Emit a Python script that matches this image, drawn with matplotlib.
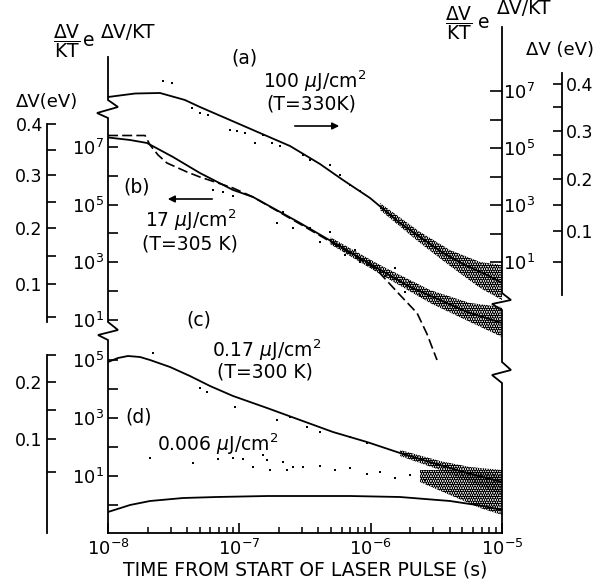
import numpy as np
import matplotlib
matplotlib.use("Agg")
import matplotlib.pyplot as plt
from matplotlib.ticker import FixedLocator, NullLocator, LogLocator, FixedFormatter

plt.rcParams['font.family'] = ['DejaVu Sans']
plt.rcParams['hatch.linewidth'] = 1.8
plt.rcParams['mathtext.fontset'] = 'dejavusans'

# ---------------- data: log10(time / s) and log10((dV/kT) e^(dV/kT)) ----------------
# (a) 100 uJ/cm2, right-hand scale
t_a = [-8.0, -7.794, -7.604, -7.414, -7.300, -7.071, -6.843, -6.614, -6.386, -6.211,
       -6.005, -5.777, -5.449, -5.282, -5.114, -5.0]
v_a = [6.789, 6.912, 6.930, 6.684, 6.439, 5.982, 5.526, 5.070, 4.439, 3.877,
       3.246, 2.368, 1.316, 0.895, 0.544, 0.263]
# (b) 17 uJ/cm2, left upper scale (solid)
t_b = [-8.0, -7.832, -7.703, -7.505, -7.300, -7.048, -6.896, -6.538, -6.211, -5.952,
       -5.700, -5.472, -5.266, -5.0]
v_b = [7.330, 7.243, 7.139, 6.653, 6.098, 5.509, 5.266, 4.364, 3.497, 2.803,
       2.144, 1.693, 1.277, 0.895]
# (b) dashed
t_bd = [-8.0, -7.718, -7.680, -7.619, -7.551, -7.398, -7.300, -7.048, -6.896, -6.538,
        -6.211, -5.952, -5.777, -5.647, -5.571, -5.495]
v_bd = [7.399, 7.399, 7.069, 6.723, 6.445, 6.133, 5.959, 5.578, 5.266, 4.329,
        3.462, 2.734, 1.867, 1.242, 0.514, -0.388]
# (c) 0.17 uJ/cm2, left lower scale
t_c = [-8.0, -7.924, -7.848, -7.756, -7.680, -7.528, -7.376, -7.223, -7.048, -6.789,
       -6.538, -6.287, -6.028, -5.777, -5.525, -5.266, -5.0]
v_c = [4.931, 5.069, 5.138, 5.103, 5.0, 4.759, 4.448, 4.103, 3.759, 3.345,
       2.931, 2.517, 2.172, 1.793, 1.448, 1.103, 0.793]
# (d) 0.006 uJ/cm2, left lower scale
t_d = [-8.0, -7.832, -7.680, -7.429, -7.170, -6.789, -6.157, -5.777, -5.396, -5.145, -5.0]
v_d = [-0.241, 0.0, 0.138, 0.241, 0.276, 0.310, 0.310, 0.276, 0.138, -0.034, -0.172]

# sparse measured points
pa_t = [-7.581, -7.513, -7.360, -7.299, -7.239, -7.071, -7.018, -6.957, -6.881, -6.820,
        -6.751, -6.690, -6.515, -6.462, -6.310, -6.233, -6.157, -6.081]
pa_v = [7.351, 7.281, 6.404, 6.228, 6.158, 5.632, 5.596, 5.526, 5.175, 5.456,
        5.175, 5.070, 4.754, 4.579, 4.404, 4.053, 3.702, 3.491]
pb_t = [-7.200, -7.124, -7.048, -6.713, -6.667, -6.591, -6.462, -6.386, -6.310, -6.233,
        -6.195, -6.119, -6.081, -6.005, -5.929, -5.891, -5.815, -5.739, -5.700, -5.624]
pb_v = [5.508, 5.439, 5.300, 4.364, 4.745, 4.190, 4.190, 3.705, 4.052, 3.601,
        3.254, 3.427, 3.011, 3.011, 2.664, 2.526, 2.803, 1.970, 2.317, 1.866]
pc_t = [-7.657, -7.299, -7.246, -7.033, -6.713, -6.614, -6.485, -6.386, -6.157, -6.028]
pc_v = [5.241, 4.034, 3.897, 3.379, 2.931, 3.034, 2.690, 2.517, 2.345, 2.138]
pd_t = [-7.680, -7.353, -7.162, -7.048, -6.972, -6.896, -6.820, -6.789, -6.767, -6.667,
        -6.637, -6.591, -6.515, -6.386, -6.272, -6.157, -6.028, -5.929, -5.815, -5.700, -5.586]
pd_v = [1.621, 1.448, 1.586, 1.621, 1.586, 1.310, 1.724, 1.552, 1.207, 1.483,
        1.207, 1.310, 1.310, 1.345, 1.207, 1.276, 1.069, 1.138, 0.931, 1.034, 0.862]

# dense clouds of measured points (envelopes)
ca_t = [-5.929, -5.624, -5.396, -5.167, -5.0]
ca_hi = [3.070, 2.053, 1.421, 1.000, 0.895]
ca_lo = [2.825, 1.667, 0.860, 0.088, -0.333]
cb_t = [-6.310, -5.929, -5.548, -5.244, -5.0]
cb_hi = [3.878, 2.907, 2.040, 1.589, 1.450]
cb_lo = [3.635, 2.595, 1.589, 0.930, 0.410]
cc_t = [-5.777, -5.472, -5.244, -5.0]
cc_hi = [1.897, 1.517, 1.310, 1.207]
cc_lo = [1.690, 1.207, 0.793, 0.345]
cd_t = [-5.624, -5.396, -5.167, -5.0]
cd_hi = [1.207, 1.207, 1.138, 1.034]
cd_lo = [0.793, 0.345, -0.103, -0.345]

x_ticks = [1e-8, 1e-7, 1e-6, 1e-5]
x_ticklabels = [r'$10^{-8}$', r'$10^{-7}$', r'$10^{-6}$', r'$10^{-5}$']
dv_ticks = [0.05, 0.1, 0.15, 0.2, 0.25, 0.3, 0.35, 0.4]
T_a, T_b, T_c = 330.0, 305.0, 300.0

# ---------------- figure ----------------
W, H = 608, 583
fig = plt.figure(figsize=(W / 100, H / 100), dpi=100)
X0, X1, Y0, Y1 = 108, 502, 27, 533


def rect(x0, y0, x1, y1):
    return [x0 / W, 1 - y1 / H, (x1 - x0) / W, (y1 - y0) / H]


def ylim_from(ref_px, ref_log, ppd):
    top = ref_log + (ref_px - Y0) / ppd
    bot = ref_log - (Y1 - ref_px) / ppd
    return 10 ** bot, 10 ** top


ax_b = fig.add_axes(rect(X0, Y0, X1, Y1))
ax_a = fig.add_axes(rect(X0, Y0, X1, Y1), sharex=ax_b)
ax_c = fig.add_axes(rect(X0, Y0, X1, Y1), sharex=ax_b)
for ax in (ax_a, ax_c):
    ax.patch.set_visible(False)

ax_b.set_xscale('log')
ax_b.set_xlim(1e-8, 1e-5)
for ax, lim in ((ax_b, ylim_from(147, 7, 28.83)), (ax_a, ylim_from(91, 7, 28.5)),
                (ax_c, ylim_from(360, 5, 29.0))):
    ax.set_yscale('log')
    ax.set_ylim(*lim)
    for s in ('left', 'right', 'top', 'bottom'):
        ax.spines[s].set_visible(False)
    ax.yaxis.set_minor_locator(NullLocator())
ax_b.spines['bottom'].set_visible(True)
ax_b.spines['bottom'].set_linewidth(1.3)

ax_b.xaxis.set_major_locator(FixedLocator(x_ticks))
ax_b.xaxis.set_major_formatter(FixedFormatter(x_ticklabels))
ax_b.xaxis.set_minor_locator(LogLocator(base=10, subs=np.arange(2, 10)))
ax_b.xaxis.set_minor_formatter(FixedFormatter([]))
ax_b.tick_params(axis='x', which='major', direction='in', length=7.5, width=1.2,
                 labelsize=13, pad=4, top=False)
ax_b.tick_params(axis='x', which='minor', direction='in', length=4.3, width=1.1, top=False)
for ax in (ax_a, ax_c):
    ax.tick_params(axis='x', which='both', bottom=False, labelbottom=False)

up_ticks = [10.0 ** k for k in range(1, 8)]
up_labels = [r'$10^{%d}$' % k if k % 2 else '' for k in range(1, 8)]
ax_b.yaxis.set_major_locator(FixedLocator(up_ticks))
ax_b.yaxis.set_major_formatter(FixedFormatter(up_labels))
ax_b.tick_params(axis='y', direction='in', length=7.5, width=1.2, labelsize=13, pad=3)

ax_a.yaxis.tick_right()
ax_a.yaxis.set_major_locator(FixedLocator(up_ticks))
ax_a.yaxis.set_major_formatter(FixedFormatter(up_labels))
ax_a.tick_params(axis='y', direction='in', length=8.5, width=1.2, labelsize=13, pad=1)

lo_ticks = [10.0 ** k for k in range(0, 6)]
lo_labels = [r'$10^{%d}$' % k if k % 2 else '' for k in range(0, 6)]
ax_c.yaxis.set_major_locator(FixedLocator(lo_ticks))
ax_c.yaxis.set_major_formatter(FixedFormatter(lo_labels))
ax_c.tick_params(axis='y', direction='in', length=7.5, width=1.2, labelsize=13, pad=3)

P = lambda arr: 10 ** np.asarray(arr, dtype=float)

# clouds
for ax, tt, lo, hi in ((ax_a, ca_t, ca_lo, ca_hi), (ax_b, cb_t, cb_lo, cb_hi),
                       (ax_c, cc_t, cc_lo, cc_hi), (ax_c, cd_t, cd_lo, cd_hi)):
    ax.fill_between(P(tt), P(lo), P(hi), facecolor='none', edgecolor='k',
                    hatch='.......', linewidth=0)
# sparse points
for ax, tt, vv in ((ax_a, pa_t, pa_v), (ax_b, pb_t, pb_v), (ax_c, pc_t, pc_v), (ax_c, pd_t, pd_v)):
    ax.scatter(P(tt), P(vv), s=3, c='k', marker='s', linewidths=0)

# curves
ax_a.plot(P(t_a), P(v_a), 'k-', lw=1.3)
ax_b.plot(P(t_b), P(v_b), 'k-', lw=1.3)
ax_b.plot(P(t_bd), P(v_bd), 'k-', lw=1.2, dashes=(6, 2.5))
ax_c.plot(P(t_c), P(v_c), 'k-', lw=1.3)
ax_c.plot(P(t_d), P(v_d), 'k-', lw=1.3)

# ---------------- dV (eV) axes ----------------
k_B = 8.617e-5


def dv_val(dv, T):
    u = dv / (k_B * T)
    return u * np.exp(u)


def dv_axis(x_px, side, parent, T, ticks, labeled, bounds):
    if side == 'left':
        ax = fig.add_axes(rect(x_px, Y0, x_px + 1, Y1))
    else:
        ax = fig.add_axes(rect(x_px - 1, Y0, x_px, Y1))
    ax.patch.set_visible(False)
    ax.set_yscale('log')
    ax.set_ylim(parent.get_ylim())
    ax.set_xticks([])
    for s in ('left', 'right', 'top', 'bottom'):
        ax.spines[s].set_visible(s == side)
    ax.spines[side].set_linewidth(1.3)
    ax.spines[side].set_bounds(*bounds)
    ax.yaxis.set_major_locator(FixedLocator([dv_val(d, T) for d in ticks]))
    ax.yaxis.set_major_formatter(FixedFormatter(['%.1f' % d if d in labeled else '' for d in ticks]))
    ax.yaxis.set_minor_locator(NullLocator())
    if side == 'right':
        ax.yaxis.tick_right()
    ax.tick_params(axis='y', direction='in', length=6.5, width=1.2, labelsize=12.5, pad=3)
    return ax


lab4 = [0.1, 0.2, 0.3, 0.4]
dv_axis(47, 'left', ax_b, T_b, dv_ticks, lab4, (10 ** 0.93, dv_val(0.4, T_b)))
dv_axis(47, 'left', ax_c, T_c, dv_ticks[:5], [0.1, 0.2], (ax_c.get_ylim()[0], dv_val(0.25, T_c)))
dv_axis(562, 'right', ax_a, T_a, dv_ticks, lab4, (10 ** -0.158, 10 ** 7.632))

# ---------------- overlay: broken frame and annotations ----------------
ov = fig.add_axes([0, 0, 1, 1])
ov.set_xlim(0, W)
ov.set_ylim(H, 0)
ov.axis('off')
ov.patch.set_visible(False)

left_frame = [(108, 57), (108, 100), (118, 107), (97, 113), (108, 118), (108, 322),
              (118, 330), (98, 335), (108, 340), (108, 533)]
right_frame = [(502, 27), (502, 293), (511, 300), (492, 304), (502, 310), (502, 362),
               (511, 370), (492, 375), (502, 383), (502, 533)]
for fr in (left_frame, right_frame):
    xs, ys = zip(*fr)
    ov.plot(xs, ys, 'k-', lw=1.3, solid_joinstyle='miter')

fs = 13.5
frac = r'$\dfrac{\mathrm{\Delta V}}{\mathrm{KT}}$'
ov.text(67, 41, frac, ha='center', va='center', fontsize=fs)
ov.text(89, 40, 'e', ha='center', va='center', fontsize=fs)
ov.text(128, 32, 'ΔV/KT', ha='center', va='center', fontsize=fs)
ov.text(459, 23, frac, ha='center', va='center', fontsize=fs)
ov.text(484, 23, 'e', ha='center', va='center', fontsize=fs)
ov.text(524, 9, 'ΔV/KT', ha='center', va='center', fontsize=fs)
ov.text(47, 102, 'ΔV(eV)', ha='center', va='center', fontsize=13)
ov.text(560, 50, 'ΔV (eV)', ha='center', va='center', fontsize=13)

ov.text(244, 58, '(a)', ha='center', va='center', fontsize=fs)
ov.text(263, 88, r'100 $\mu$J/cm$^2$', ha='left', va='baseline', fontsize=fs)
ov.text(311, 104, '(T=330K)', ha='center', va='center', fontsize=fs)
ov.annotate('', xy=(342, 126), xytext=(292, 126),
            arrowprops=dict(arrowstyle='-|>', lw=1.2, color='k', mutation_scale=10))
ov.text(137, 187, '(b)', ha='center', va='center', fontsize=fs)
ov.annotate('', xy=(165, 199), xytext=(215, 199),
            arrowprops=dict(arrowstyle='-|>', lw=1.2, color='k', mutation_scale=10))
ov.text(145, 227, r'17 $\mu$J/cm$^2$', ha='left', va='baseline', fontsize=fs)
ov.text(190, 244, '(T=305 K)', ha='center', va='center', fontsize=fs)
ov.text(199, 320, '(c)', ha='center', va='center', fontsize=fs)
ov.text(212, 357, r'0.17 $\mu$J/cm$^2$', ha='left', va='baseline', fontsize=fs)
ov.text(265, 372, '(T=300 K)', ha='center', va='center', fontsize=fs)
ov.text(139, 417, '(d)', ha='center', va='center', fontsize=fs)
ov.text(157, 451, r'0.006 $\mu$J/cm$^2$', ha='left', va='baseline', fontsize=fs)
ov.text(305, 570, 'TIME FROM START OF LASER PULSE (s)', ha='center', va='center', fontsize=fs)

fig.savefig('out.png', dpi=100)
